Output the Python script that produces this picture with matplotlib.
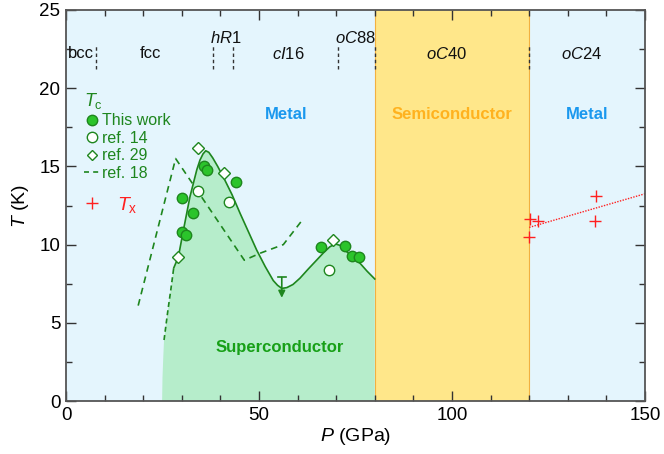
import matplotlib
matplotlib.use("Agg")
import matplotlib.pyplot as plt
from matplotlib.lines import Line2D
from matplotlib.ticker import MultipleLocator

plt.rcParams["font.family"] = ["Liberation Sans", "DejaVu Sans"]
plt.rcParams["mathtext.fontset"] = "custom"
plt.rcParams["mathtext.rm"] = "Liberation Sans"
plt.rcParams["mathtext.it"] = "Liberation Sans:italic"
plt.rcParams["mathtext.bf"] = "Liberation Sans:bold"

# Tc, this work (filled circles)
work_p = [30.1, 35.8, 36.6, 44.1, 33.0, 30.1, 31.2, 66.1, 72.2, 74.1, 76.0]
work_t = [13.0, 15.0, 14.8, 14.0, 12.0, 10.8, 10.6, 9.85, 9.9, 9.25, 9.2]
# ref. 14 (open circles)
ref14_p = [34.1, 42.1, 68.1]
ref14_t = [13.4, 12.7, 8.4]
# ref. 29 (diamonds)
ref29_p = [34.1, 41.0, 29.1, 69.3]
ref29_t = [16.2, 14.6, 9.2, 10.3]
# ref. 18 (dashed)
ref18_p = [18.7, 28.4, 46.2, 50.3, 56.3, 61.0]
ref18_t = [6.1, 15.5, 9.0, 9.45, 10.0, 11.5]

# guide-to-eye Tc curve
curve_p = [27.9, 29.1, 30.4, 32.1, 33.9, 34.7, 35.5, 36.2, 37.0, 38.0, 39.3,
           40.8, 43.0, 45.1, 47.3, 49.4, 51.6, 53.7, 54.8, 55.9, 57.2, 58.8,
           60.6, 62.8, 64.9, 66.8, 68.3, 69.7, 71.0, 72.5, 74.3, 76.2, 78.0, 80.0]
curve_t = [8.5, 9.2, 10.9, 13.05, 14.8, 15.4, 15.8, 16.0, 15.9, 15.55, 15.0,
           14.3, 13.2, 12.0, 10.8, 9.65, 8.6, 7.7, 7.4, 7.2, 7.25, 7.45,
           7.85, 8.45, 9.0, 9.5, 9.85, 10.05, 9.95, 9.6, 9.2, 8.8, 8.3, 7.8]
# dashed extrapolation at low pressure
extra_p = [25.4, 26.4, 27.2, 27.9]
extra_t = [3.9, 5.8, 7.2, 8.5]
# fill edge below the extrapolation
edge_p = [24.9, 25.0, 25.2]
edge_t = [0.0, 1.5, 2.8]

# Tx (red crosses) and its linear trend
tx_p = [120.2, 122.2, 120.0, 137.2, 137.0]
tx_t = [11.65, 11.5, 10.5, 13.1, 11.5]
trend_p = [120.0, 150.0]
trend_t = [11.1, 13.25]

# upper limit at the dip
limit_p = 55.9
limit_t = [7.9, 6.6]

# phase regions and boundaries
semi_lo, semi_hi = 80, 120
bounds = [7.8, 38.2, 43.3, 70.4, 80.0, 120.0]
phase_names = ["bcc", "fcc", "$hR$1", "$cI$16", "$oC$88", "$oC$40", "$oC$24"]
phase_p = [3.9, 21.9, 41.4, 57.5, 74.9, 98.7, 133.6]
phase_t = [22.2, 22.2, 23.2, 22.2, 23.2, 22.2, 22.2]

BLUE_BG = "#E4F5FD"
YELLOW = "#FFE78A"
GREEN_FILL = "#B6EDCB"
DKGREEN = "#1E861E"
MARKER_GREEN = "#2BC42B"
RED = "#FF2020"

fig = plt.figure(figsize=(6.64, 4.54), dpi=100)
ax = fig.add_axes([66 / 664, 53 / 454, 579 / 664, 391 / 454])

ax.axvspan(0, semi_lo, color=BLUE_BG, lw=0, zorder=0)
ax.axvspan(semi_lo, semi_hi, color=YELLOW, lw=0, zorder=0)
ax.axvspan(semi_hi, 150, color=BLUE_BG, lw=0, zorder=0)
ax.axvline(semi_hi, color="#F2B040", lw=0.8, zorder=0.5)
ax.axvline(semi_lo, color="#F2B040", lw=0.8, zorder=0.5)

fill_p = edge_p + extra_p + curve_p[1:] + [80.0]
fill_t = edge_t + extra_t + curve_t[1:] + [0.0]
ax.fill(fill_p, fill_t, color=GREEN_FILL, lw=0, zorder=1)

ax.plot(curve_p, curve_t, color=DKGREEN, lw=1.2, zorder=3)
ax.plot(extra_p, extra_t, color=DKGREEN, lw=1.2, ls=(0, (3, 2)), zorder=3)
ax.plot(ref18_p, ref18_t, color=DKGREEN, lw=1.2, ls=(0, (4, 3)), zorder=3)

ax.plot(work_p, work_t, "o", ms=7.5, mfc=MARKER_GREEN, mec=DKGREEN, mew=1.0, zorder=5)
ax.plot(ref14_p, ref14_t, "o", ms=7.5, mfc="white", mec=DKGREEN, mew=1.0, zorder=5)
ax.plot(ref29_p, ref29_t, "D", ms=6, mfc="white", mec=DKGREEN, mew=1.0, zorder=5)

# upper-limit arrow
ax.annotate("", xy=(limit_p, limit_t[1]), xytext=(limit_p, limit_t[0]),
            arrowprops=dict(arrowstyle="-|>", color=DKGREEN, lw=1.2,
                            mutation_scale=10, shrinkA=0, shrinkB=0), zorder=4)
ax.plot([limit_p - 1.1, limit_p + 1.1], [limit_t[0], limit_t[0]], color=DKGREEN, lw=1.2, zorder=4)

ax.plot(tx_p, tx_t, "+", ms=8, mew=1.0, color=RED, zorder=5)
ax.plot(trend_p, trend_t, color=RED, lw=1.0, ls=(0, (1, 1)), zorder=4)

for b in bounds:
    ax.plot([b, b], [21.2, 22.8], color="#333333", lw=1.0, ls=(0, (2.5, 2)), zorder=2)
for name, p, t in zip(phase_names, phase_p, phase_t):
    ax.text(p, t, name, ha="center", va="center", fontsize=12, color="#111111", zorder=6)

ax.text(57, 18.3, "Metal", ha="center", va="center", fontsize=12, fontweight="bold", color="#1A98EE")
ax.text(100, 18.3, "Semiconductor", ha="center", va="center", fontsize=12, fontweight="bold", color="#FFB21F")
ax.text(135, 18.3, "Metal", ha="center", va="center", fontsize=12, fontweight="bold", color="#1A98EE")
ax.text(55.4, 3.4, "Superconductor", ha="center", va="center", fontsize=12, fontweight="bold", color="#17A017")

# legend
handles = [
    Line2D([], [], ls="none", marker="o", ms=7.5, mfc=MARKER_GREEN, mec=DKGREEN),
    Line2D([], [], ls="none", marker="o", ms=7.5, mfc="white", mec=DKGREEN),
    Line2D([], [], ls="none", marker="D", ms=5.5, mfc="white", mec=DKGREEN),
    Line2D([], [], color=DKGREEN, lw=1.2, ls=(0, (3, 2.5))),
]
labels = ["This work", "ref. 14", "ref. 29", "ref. 18"]
leg = ax.legend(handles, labels, loc="upper left", bbox_to_anchor=(0.02, 0.81),
                frameon=False, fontsize=11.5, handlelength=1.0, handletextpad=0.15,
                labelspacing=0.16, borderaxespad=0, labelcolor=DKGREEN,
                title="$T_\\mathrm{c}$", alignment="left")
leg.get_title().set_color(DKGREEN)
leg.get_title().set_fontsize(13)
ax.add_artist(leg)

leg2 = ax.legend([Line2D([], [], ls="none", marker="+", ms=8, mew=1.0, color=RED)],
                 ["$T_\\mathrm{x}$"], loc="upper left", bbox_to_anchor=(0.011, 0.548),
                 frameon=False, fontsize=14, handlelength=1.2, handletextpad=0.7,
                 borderaxespad=0, labelcolor=RED)

ax.set_xlim(0, 150)
ax.set_ylim(0, 25)
ax.xaxis.set_major_locator(MultipleLocator(50))
ax.xaxis.set_minor_locator(MultipleLocator(10))
ax.yaxis.set_major_locator(MultipleLocator(5))
ax.yaxis.set_minor_locator(MultipleLocator(2.5))
ax.tick_params(which="both", direction="in", top=True, right=True, color="#333333",
               labelsize=13.5, pad=4)
ax.tick_params(which="major", length=7, width=1.0)
ax.tick_params(which="minor", length=4, width=1.0)
for s in ax.spines.values():
    s.set_color("#555555")
    s.set_linewidth(1.3)
    s.set_zorder(10)

ax.set_xlabel("$P$ (GPa)", fontsize=14, labelpad=2)
ax.set_ylabel("$T$ (K)", fontsize=14, labelpad=6)

fig.savefig("out.png", dpi=100)
